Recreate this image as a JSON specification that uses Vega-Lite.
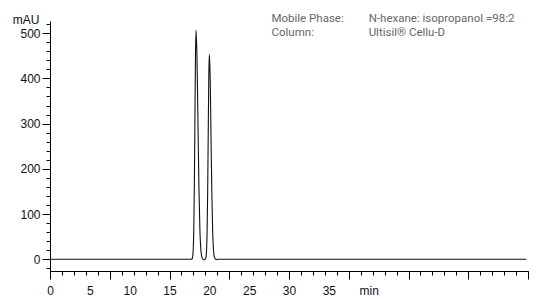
{
  "$schema": "https://vega.github.io/schema/vega-lite/v6.json",
  "autosize": {"type": "none"},
  "padding": {"left": 50, "top": 21, "right": 11, "bottom": 28},
  "width": 478,
  "height": 250,
  "background": "white",
  "config": {
    "view": {"stroke": null},
    "axis": {"grid": false, "tickColor": "#000", "domainColor": "#000", "tickWidth": 1, "domainWidth": 1,
             "labelFont": "Liberation Sans", "labelFontSize": 12, "labelColor": "#111", "labelOverlap": false, "labelFlush": false}
  },
  "datasets": {
    "trace": [
      {"t": 0, "v": 0}, {"t": 17.7, "v": 0}, {"t": 17.84, "v": 1}, {"t": 17.91, "v": 6},
      {"t": 17.98, "v": 22}, {"t": 18.05, "v": 69}, {"t": 18.12, "v": 165}, {"t": 18.19, "v": 307},
      {"t": 18.26, "v": 447}, {"t": 18.33, "v": 507}, {"t": 18.45, "v": 447}, {"t": 18.57, "v": 307},
      {"t": 18.69, "v": 165}, {"t": 18.81, "v": 69}, {"t": 18.93, "v": 22}, {"t": 19.05, "v": 6},
      {"t": 19.17, "v": 1}, {"t": 19.3, "v": -1}, {"t": 19.4, "v": -1}, {"t": 19.51, "v": 1},
      {"t": 19.58, "v": 5}, {"t": 19.65, "v": 20}, {"t": 19.72, "v": 61}, {"t": 19.79, "v": 147},
      {"t": 19.86, "v": 275}, {"t": 19.93, "v": 401}, {"t": 20.0, "v": 454}, {"t": 20.105, "v": 401},
      {"t": 20.21, "v": 275}, {"t": 20.315, "v": 147}, {"t": 20.42, "v": 61}, {"t": 20.525, "v": 20},
      {"t": 20.63, "v": 5}, {"t": 20.735, "v": 1}, {"t": 20.85, "v": -1}, {"t": 21.0, "v": 0},
      {"t": 59.8, "v": 0}
    ],
    "notes": [
      {"line": 1, "label": "Mobile Phase:", "value": "N-hexane: isopropanol =98:2"},
      {"line": 2, "label": "Column:", "value": "Ultisil® Cellu-D"}
    ]
  },
  "resolve": {"axis": {"x": "independent", "y": "independent"}},
  "layer": [
    {
      "data": {"name": "trace"},
      "mark": {"type": "line", "color": "#111", "strokeWidth": 1.1, "interpolate": "monotone"},
      "encoding": {
        "x": {
          "field": "t", "type": "quantitative",
          "scale": {"domain": [0, 60], "nice": false, "zero": false},
          "axis": {"orient": "bottom", "title": null, "values": [0, 7.5, 15, 22.5, 30, 37.5, 45, 52.5, 60], "labels": false, "tickSize": 8}
        },
        "y": {
          "field": "v", "type": "quantitative",
          "scale": {"domain": [-26, 527], "nice": false, "zero": false},
          "axis": {
            "orient": "left",
            "title": "mAU", "titleAngle": 0, "titleAlign": "right", "titleBaseline": "middle",
            "titleX": -11, "titleY": -2, "titleFont": "Liberation Sans", "titleFontSize": 12,
            "titleFontWeight": "normal", "titleColor": "#111",
            "values": [0, 100, 200, 300, 400, 500], "format": "d",
            "tickSize": 8, "labelPadding": 2
          }
        }
      }
    },
    {
      "data": {"name": "trace"},
      "mark": {"type": "line", "strokeOpacity": 0},
      "encoding": {
        "x": {
          "field": "t", "type": "quantitative",
          "axis": {"orient": "bottom", "title": null, "domain": false, "labels": false, "tickSize": 4,
                   "values": [0,1.5,3,4.5,6,7.5,9,10.5,12,13.5,15,16.5,18,19.5,21,22.5,24,25.5,27,28.5,30,31.5,33,34.5,36,37.5,39,40.5,42,43.5,45,46.5,48,49.5,51,52.5,54,55.5,57,58.5,60]}
        },
        "y": {
          "field": "v", "type": "quantitative",
          "axis": {"orient": "left", "title": null, "domain": false, "labels": false, "tickSize": 4,
                   "values": [-20,0,20,40,60,80,100,120,140,160,180,200,220,240,260,280,300,320,340,360,380,400,420,440,460,480,500,520]}
        }
      }
    },
    {
      "data": {"name": "trace"},
      "mark": {"type": "line", "strokeOpacity": 0},
      "encoding": {
        "x": {
          "field": "t", "type": "quantitative",
          "axis": {"orient": "bottom", "title": null, "domain": false, "ticks": false, "tickSize": 0, "labelPadding": 14,
                   "values": [0, 5, 10, 15, 20, 25, 30, 35, 40],
                   "labelExpr": "datum.value === 40 ? 'min' : format(datum.value, 'd')"}
        },
        "y": {"field": "v", "type": "quantitative", "axis": null}
      }
    },
    {
      "data": {"name": "notes"},
      "transform": [{"filter": "datum.line === 1"}],
      "mark": {"type": "text", "align": "left", "baseline": "middle", "font": "Roboto", "fontSize": 11.5, "color": "#666"},
      "encoding": {"x": {"datum": 27.8, "type": "quantitative", "axis": null}, "y": {"datum": 532, "type": "quantitative", "axis": null}, "text": {"field": "label"}}
    },
    {
      "data": {"name": "notes"},
      "transform": [{"filter": "datum.line === 1"}],
      "mark": {"type": "text", "align": "left", "baseline": "middle", "font": "Roboto", "fontSize": 11.5, "color": "#666"},
      "encoding": {"x": {"datum": 40.0, "type": "quantitative", "axis": null}, "y": {"datum": 532, "type": "quantitative", "axis": null}, "text": {"field": "value"}}
    },
    {
      "data": {"name": "notes"},
      "transform": [{"filter": "datum.line === 2"}],
      "mark": {"type": "text", "align": "left", "baseline": "middle", "font": "Roboto", "fontSize": 11.5, "color": "#666"},
      "encoding": {"x": {"datum": 27.8, "type": "quantitative", "axis": null}, "y": {"datum": 501, "type": "quantitative", "axis": null}, "text": {"field": "label"}}
    },
    {
      "data": {"name": "notes"},
      "transform": [{"filter": "datum.line === 2"}],
      "mark": {"type": "text", "align": "left", "baseline": "middle", "font": "Roboto", "fontSize": 11.5, "color": "#666"},
      "encoding": {"x": {"datum": 40.0, "type": "quantitative", "axis": null}, "y": {"datum": 501, "type": "quantitative", "axis": null}, "text": {"field": "value"}}
    }
  ]
}
